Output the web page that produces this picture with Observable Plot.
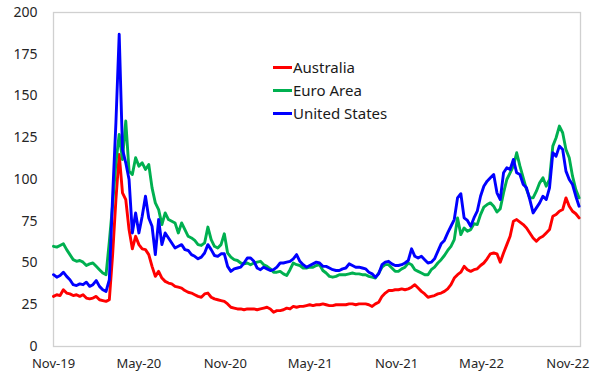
<!DOCTYPE html>
<html><head><meta charset="utf-8">
<script src="https://cdn.jsdelivr.net/npm/d3@7"></script>
<script src="https://cdn.jsdelivr.net/npm/@observablehq/plot@0.6"></script>
<style>
body{margin:0;background:#fff;font-family:"Noto Sans",sans-serif}
#wrap{position:relative;width:595px;height:375px}
.legend{position:absolute;left:273px;top:56px;font-size:15px;color:#1a1a1a;line-height:23px}
.legend div{display:flex;align-items:center;height:23px;white-space:nowrap}
.legend .sw{display:inline-block;width:19px;height:3px;margin-right:1px}
</style></head><body>
<div id="wrap"></div>
<script>
const startDate = "2019-11-01";
const endDate = "2022-11-28";
const seriesNames = ["Australia", "Euro Area", "United States"];
const seriesColors = ["#ff0000", "#00b050", "#0000ff"];

// weekly observations from 1 Nov 2019
const australia = [
30,31,30.5,34,32,31.5,30.5,31,30,31,29,28.5,29,30,28,27.5,27,28,55,88,
115,92,88,70,58.5,66,61,58.5,58,55,48,42,45,41,39,38,37.5,36,35.5,35,
33.5,32.5,32,31,30,29.5,31.5,32,29.5,28.5,28,27.5,27,25.5,23.5,23,22.5,22.5,22,22.5,
22.5,22.5,22,22.5,23,23.5,22.5,20.5,21.5,21.5,22,23,22.5,24,23.5,24,24,24.5,25,24.5,
25,25,25.5,25,24.5,24.5,25,25,25,25,25.5,25.5,25,25.5,25.5,25.5,25,24,25.5,26.5,
30,32,33.5,33.5,34,34,34.5,34,34.5,35.5,37,35,33,31.5,29.5,30,30.5,31.5,32,33,
34.5,37,41,43,44.5,48,46,45,46,46.5,48.5,50,52.5,55.5,56,55.5,50.5,56,61,66,
75,76,74.5,73,71,68,65,63,65,66,68,70,78,79,81,82,89,84,81,79.5,
77];
const euroArea = [
60,59.5,60.5,61.5,58,55,52,51,51.5,50.5,48.5,49.5,50,48,46,44,43,63,85,110,
127,112,135,105,103,113,108,110,106,109,95,86,82,73,80,76,75,74,68,74,
70,66,65,63.5,61,60.5,62,71.5,64,60,59,61,67.5,56,53.5,52,51.5,50,49.5,50,
49,50,50.5,51,49,48,46.5,44.5,44.5,45,43.5,42.5,46,50,49,48.5,47,47,47.5,47.5,
48.5,49,45.5,44,42,41.5,42,43,43,43,43.5,44,43.5,43.5,43,43,42,41.5,41,44,
47.5,49,49,47,45,45,46.5,47.5,50,49,46,45,44,43,43,46,47.5,50,52,54.5,
57.5,60,64,77,67,71,69,70,73.5,73,79,83.5,85,86,84,80.5,82.5,92,100,104,
108,116,108,101,94,89,89,93,98,101,96,100,120,125,132,128,118,113,102,94,
89];
const unitedStates = [
43,41.5,42.5,44.5,42,40,37,36.5,37.5,37,38.5,36,37,39.5,36,34,33,40,90,134,
187,118,110,100,68,80,68,78,90,77,72,55,76,61,68,65,62,59,60,61,
58,57.5,55,54,52.5,53.5,56,61,58,54.5,54,55.5,55.5,48,45,46.5,47,47.5,50,53,
53,51,47,46,47.5,46.5,45.5,46,47.5,50,50,50.5,51,52.5,55,51,49,47.5,48.5,49.5,
50.5,50,48,48,47,46,45.5,45.5,46.5,47,49.5,48.5,47.5,47.5,47,46.5,44.5,43.5,41.5,43.5,
49,50.5,51,49.5,48.5,48.5,49,50,51.5,58.5,54,53,54,52,50,50.5,52.5,57,61.5,63.5,
68,72,76,89,91.5,77,75.5,72,77,81,90,96,99,101,103,92,88,104,107,106,
112,104,103,97,95,88,80,83,86,90,88,95,116,114,120,118,105,100,97,90,
84];

const tickDates = ["2019-11-01","2020-05-01","2020-11-01","2021-05-01","2021-11-01","2022-05-01","2022-11-01"];
const tickLabels = ["Nov-19","May-20","Nov-20","May-21","Nov-21","May-22","Nov-22"];
const yTicks = [0,25,50,75,100,125,150,175,200];

const t0 = new Date(startDate + "T00:00:00Z");
const dateAt = i => d3.utcDay.offset(t0, 7 * i);
const toRows = (vals) => vals.map((v, i) => ({date: dateAt(i), value: v}));
const allSeries = [australia, euroArea, unitedStates];

const labelMap = new Map(tickDates.map((d, i) => [new Date(d + "T00:00:00Z").getTime(), tickLabels[i]]));

const chart = Plot.plot({
  width: 595,
  height: 375,
  marginLeft: 53,
  marginRight: 15,
  marginTop: 12,
  marginBottom: 29,
  style: {fontFamily: "'Noto Sans', sans-serif", fontSize: "13px", color: "#262626", background: "#fff"},
  x: {type: "utc", domain: [new Date(startDate + "T00:00:00Z"), new Date(endDate + "T00:00:00Z")]},
  y: {domain: [0, 200]},
  marks: [
    Plot.frame({stroke: "#d0d0d0", strokeWidth: 1.3}),
    Plot.axisY({ticks: yTicks, tickSize: 0, tickPadding: 16, label: null, fontSize: 14}),
    Plot.axisX({ticks: tickDates.map(d => new Date(d + "T00:00:00Z")), tickSize: 0, tickPadding: 12, label: null,
      tickFormat: d => labelMap.get(d.getTime())}),
    ...allSeries.map((s, k) => Plot.line(toRows(s), {x: "date", y: "value", stroke: seriesColors[k], strokeWidth: 2.9, strokeLinejoin: "round"}))
  ]
});

const wrap = document.getElementById("wrap");
wrap.appendChild(chart);
const legend = document.createElement("div");
legend.className = "legend";
seriesNames.forEach((n, k) => {
  const row = document.createElement("div");
  const sw = document.createElement("span");
  sw.className = "sw";
  sw.style.background = seriesColors[k];
  row.appendChild(sw);
  row.appendChild(document.createTextNode(n));
  legend.appendChild(row);
});
wrap.appendChild(legend);
</script>
</body></html>
